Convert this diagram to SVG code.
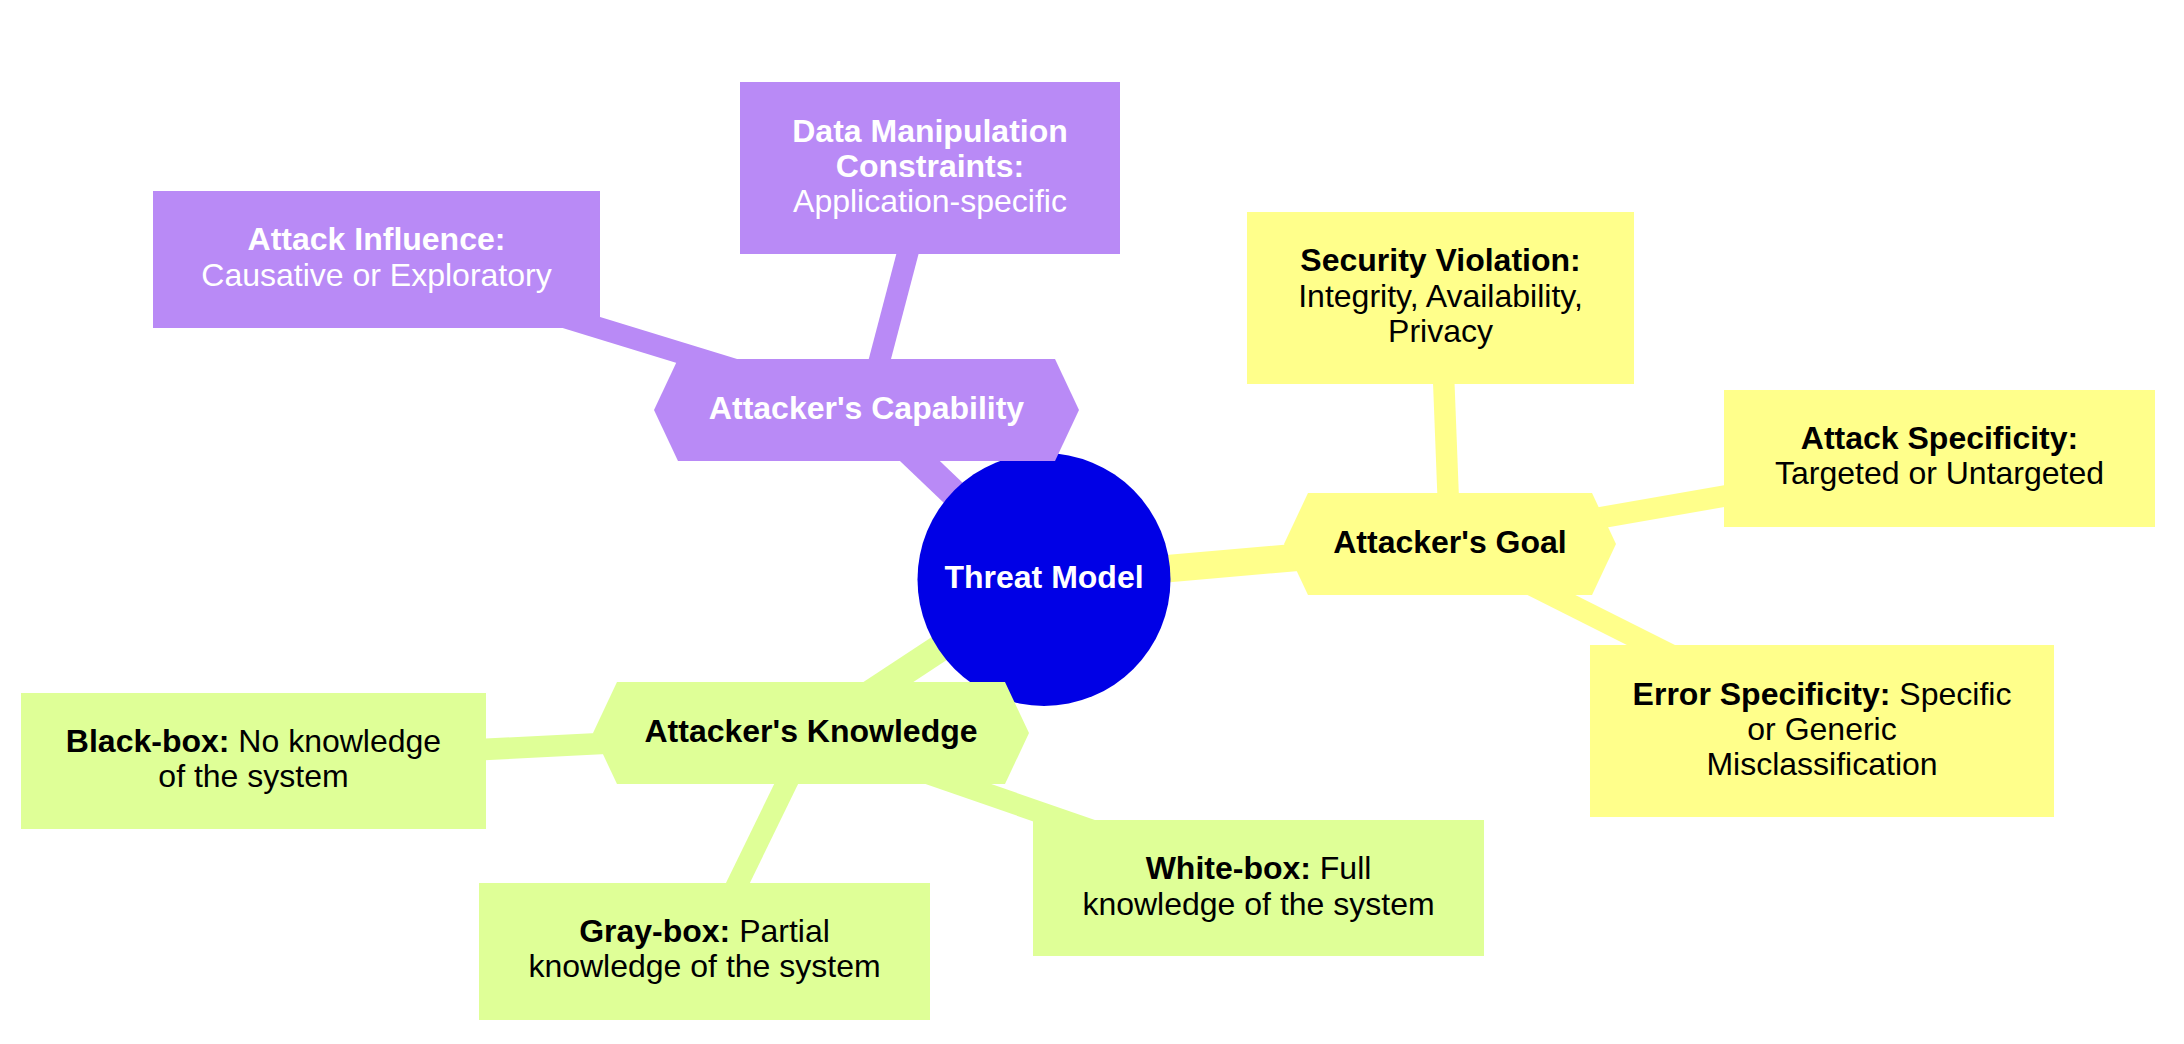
<svg xmlns="http://www.w3.org/2000/svg" width="2184" height="1044" viewBox="0 0 2184 1044">
<style>
  text { font-family: "Liberation Sans", Arial, sans-serif; font-size: 32px; text-anchor: middle; }
  .b { font-weight: bold; }
  .w { fill: #ffffff; }
  .k { fill: #000000; }
  .e { fill: none; stroke-linecap: butt; }
  .e1 { stroke-width: 27.5; }
  .e2 { stroke-width: 21.5; }
  .pu { fill: #b98af6; }
  .ye { fill: #ffff8b; }
  .gr { fill: #dfff97; }
  .spu { stroke: #b98af6; }
  .sye { stroke: #ffff8b; }
  .sgr { stroke: #dfff97; }
</style>
<rect x="0" y="0" width="2184" height="1044" fill="#ffffff"/>
<g id="connectors">
  <line class="e e1 spu" x1="1044" y1="579.5" x2="866.5" y2="410"/>
  <line class="e e1 sye" x1="1044" y1="579.5" x2="1450" y2="544"/>
  <line class="e e1 sgr" x1="1044" y1="579.5" x2="811" y2="733"/>
  <line class="e e2 spu" x1="866.5" y1="410" x2="376.5" y2="259.5"/>
  <line class="e e2 spu" x1="866.5" y1="410" x2="930" y2="168"/>
  <line class="e e2 sye" x1="1450" y1="544" x2="1440.5" y2="298"/>
  <line class="e e2 sye" x1="1450" y1="544" x2="1939.5" y2="458.5"/>
  <line class="e e2 sye" x1="1450" y1="544" x2="1822" y2="731"/>
  <line class="e e2 sgr" x1="811" y1="733" x2="253.5" y2="761"/>
  <line class="e e2 sgr" x1="811" y1="733" x2="704.5" y2="951.5"/>
  <line class="e e2 sgr" x1="811" y1="733" x2="1258.5" y2="888"/>
</g>
<g id="root">
  <circle cx="1044" cy="579.5" r="126.5" fill="#0000e6"/>
  <text class="w b" x="1044" y="588">Threat Model</text>
</g>
<g id="capability">
  <polygon class="pu" points="678,359 1055,359 1079,410 1055,461 678,461 654,410"/>
  <text class="w b" x="866.5" y="418.5">Attacker's Capability</text>
</g>
<g id="attack-influence">
  <rect class="pu" x="153" y="191" width="447" height="137"/>
  <text class="w" x="376.5"><tspan class="b" x="376.5" y="250">Attack Influence:</tspan><tspan x="376.5" y="286">Causative or Exploratory</tspan></text>
</g>
<g id="data-manipulation">
  <rect class="pu" x="740" y="82" width="380" height="172"/>
  <text class="w" x="930"><tspan class="b" x="930" y="142">Data Manipulation</tspan><tspan class="b" x="930" y="177">Constraints:</tspan><tspan x="930" y="212">Application-specific</tspan></text>
</g>
<g id="goal">
  <polygon class="ye" points="1308,493 1592,493 1616,544 1592,595 1308,595 1284,544"/>
  <text class="k b" x="1450" y="553">Attacker's Goal</text>
</g>
<g id="security-violation">
  <rect class="ye" x="1247" y="212" width="387" height="172"/>
  <text class="k" x="1440.5"><tspan class="b" x="1440.5" y="271">Security Violation:</tspan><tspan x="1440.5" y="307">Integrity, Availability,</tspan><tspan x="1440.5" y="342">Privacy</tspan></text>
</g>
<g id="attack-specificity">
  <rect class="ye" x="1724" y="390" width="431" height="137"/>
  <text class="k" x="1939.5"><tspan class="b" x="1939.5" y="449">Attack Specificity:</tspan><tspan x="1939.5" y="484">Targeted or Untargeted</tspan></text>
</g>
<g id="error-specificity">
  <rect class="ye" x="1590" y="645" width="464" height="172"/>
  <text class="k" x="1822"><tspan x="1822" y="705"><tspan class="b">Error Specificity:</tspan> Specific</tspan><tspan x="1822" y="740">or Generic</tspan><tspan x="1822" y="775">Misclassification</tspan></text>
</g>
<g id="knowledge">
  <polygon class="gr" points="617,682 1005,682 1029,733 1005,784 617,784 593,733"/>
  <text class="k b" x="811" y="742">Attacker's Knowledge</text>
</g>
<g id="black-box">
  <rect class="gr" x="21" y="693" width="465" height="136"/>
  <text class="k" x="253.5"><tspan x="253.5" y="752"><tspan class="b">Black-box:</tspan> No knowledge</tspan><tspan x="253.5" y="787">of the system</tspan></text>
</g>
<g id="gray-box">
  <rect class="gr" x="479" y="883" width="451" height="137"/>
  <text class="k" x="704.5"><tspan x="704.5" y="942"><tspan class="b">Gray-box:</tspan> Partial</tspan><tspan x="704.5" y="977">knowledge of the system</tspan></text>
</g>
<g id="white-box">
  <rect class="gr" x="1033" y="820" width="451" height="136"/>
  <text class="k" x="1258.5"><tspan x="1258.5" y="879"><tspan class="b">White-box:</tspan> Full</tspan><tspan x="1258.5" y="915">knowledge of the system</tspan></text>
</g>
</svg>
